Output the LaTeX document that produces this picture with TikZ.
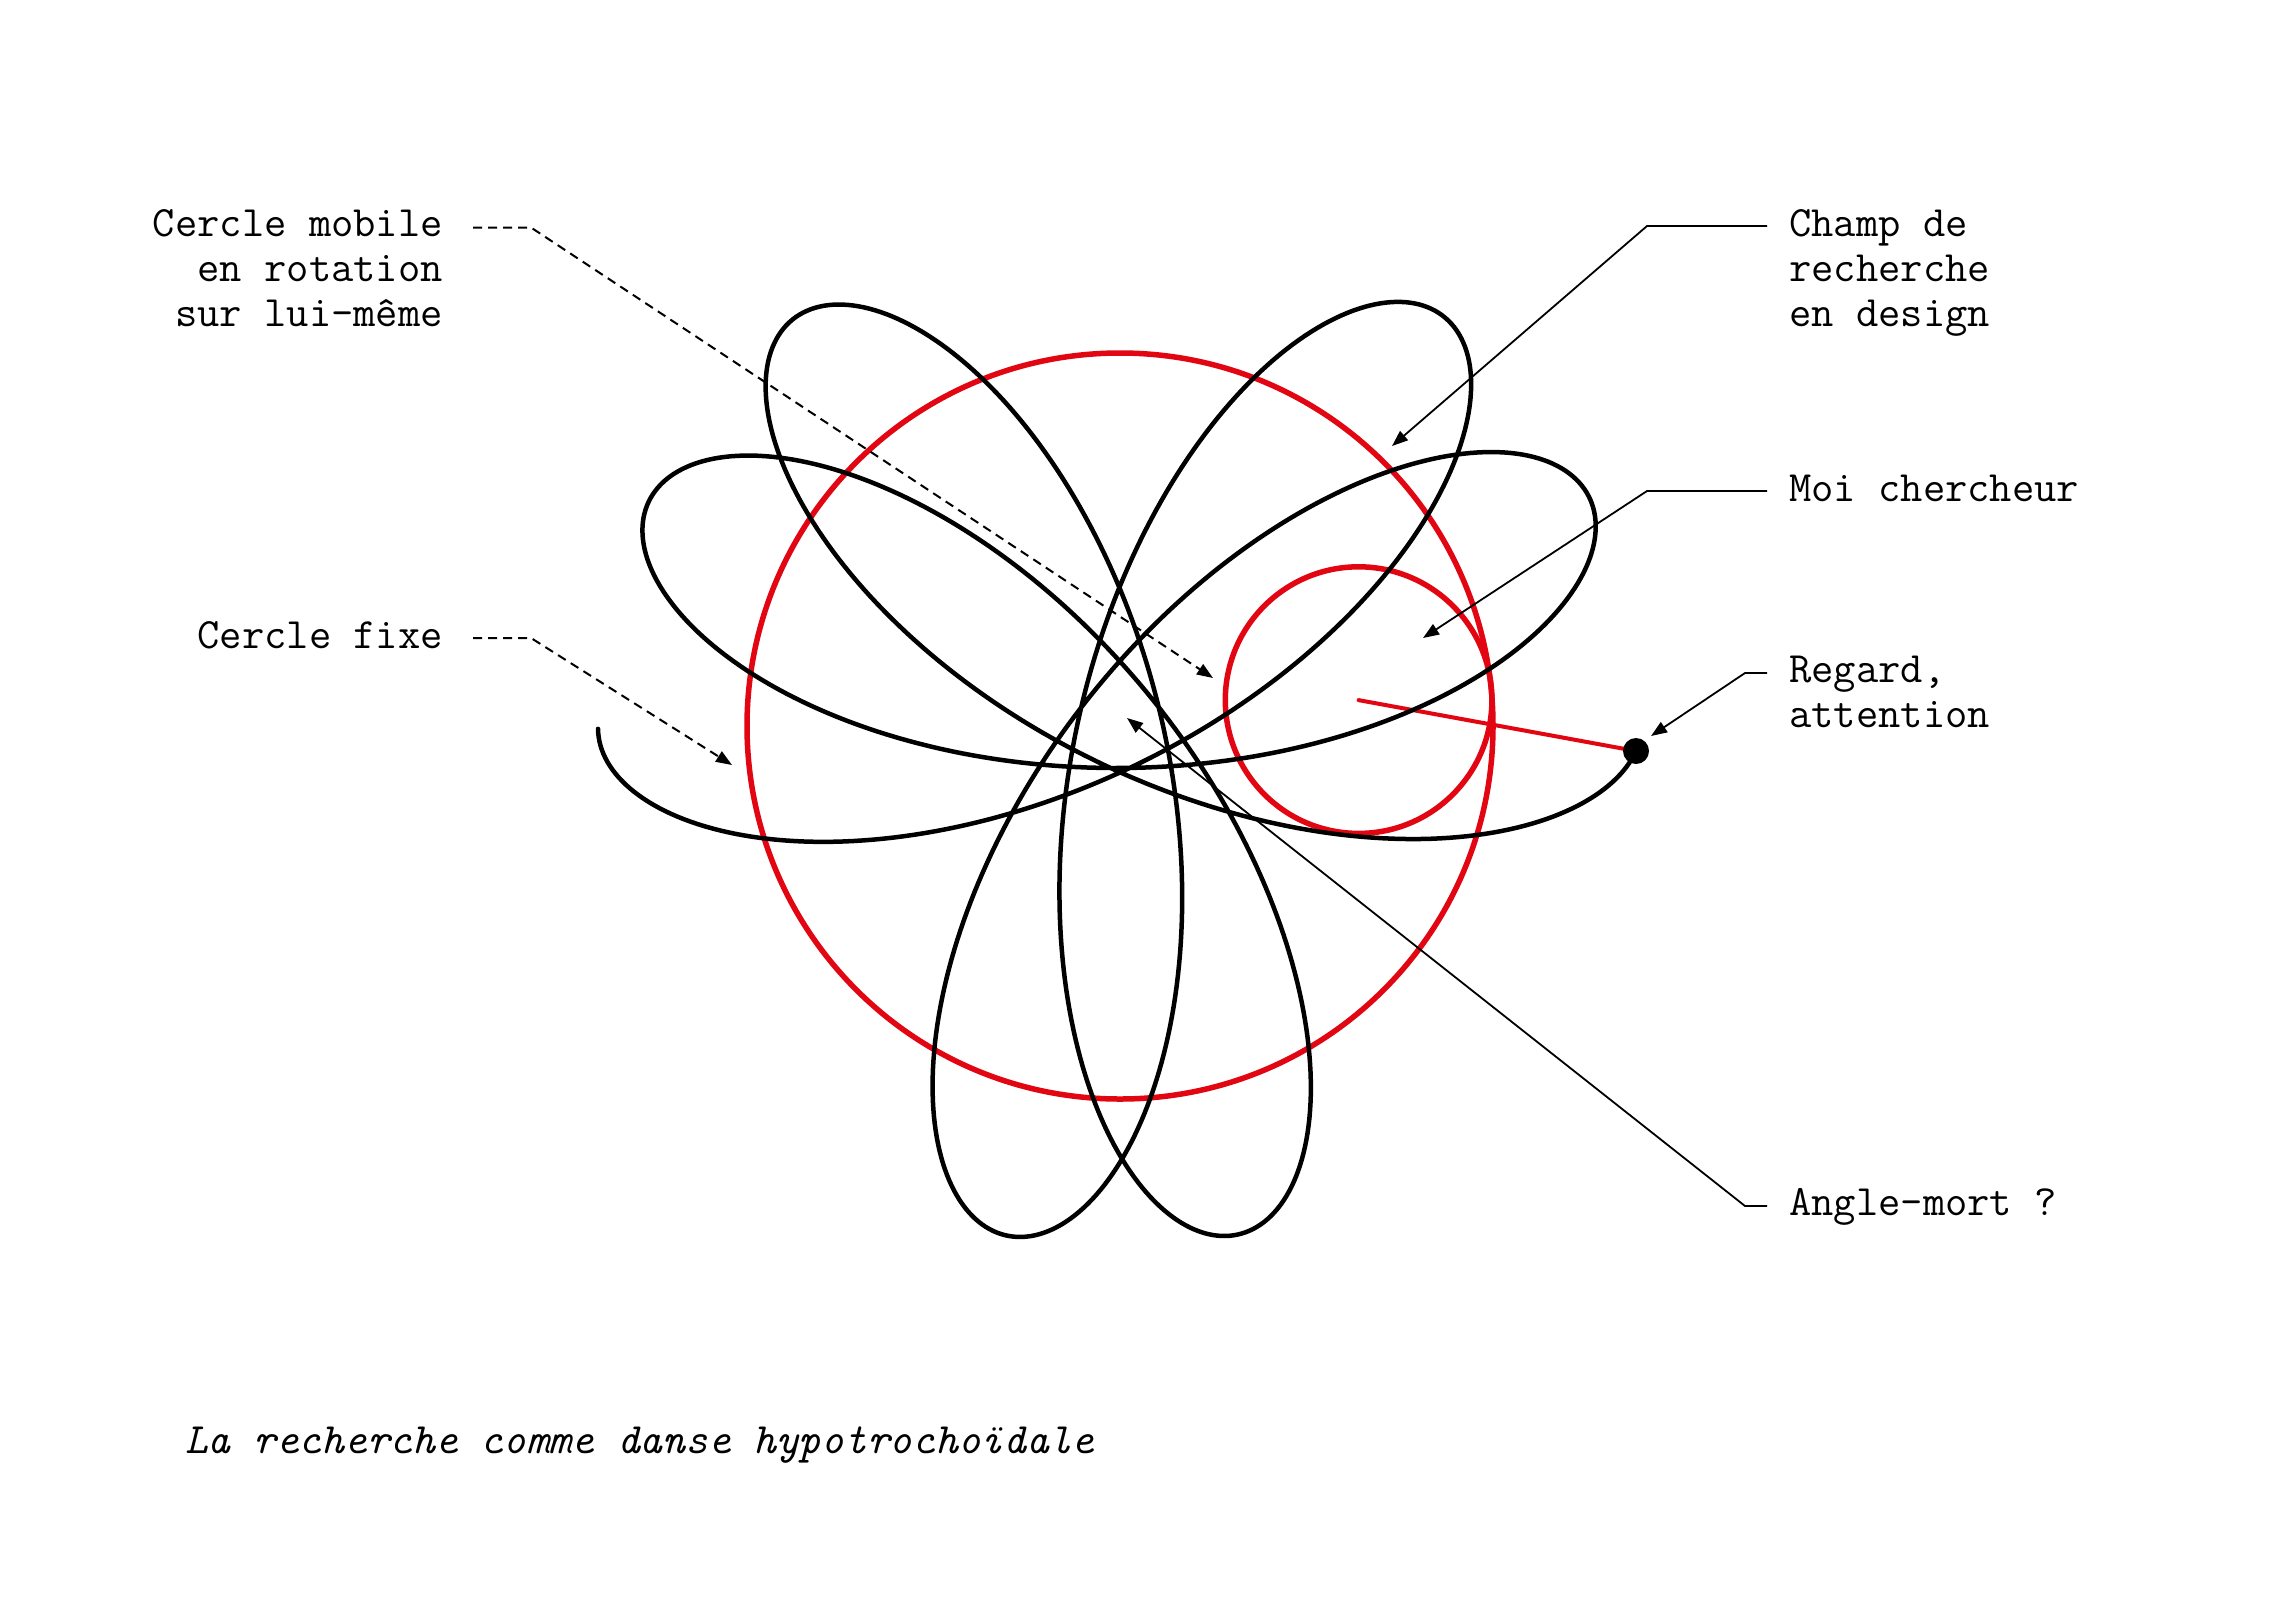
\documentclass[tikz,border=0pt]{standalone}
\usetikzlibrary{arrows.meta}
\definecolor{penred}{RGB}{226,6,19}
\begin{document}
\begin{tikzpicture}[x=1pt,y=-1pt,
  lbl/.style={font=\fontsize{43.3}{45}\selectfont\ttfamily, inner sep=0pt},
  leaderdash/.style={line width=2pt, dash pattern=on 9pt off 6pt, -{Triangle[length=16pt,width=12pt]}},
  leader/.style={line width=1.8pt, -{Triangle[length=16pt,width=12pt]}},
  curve/.style={line width=4.5pt, line join=round, line cap=round},
  redline/.style={penred, line width=5.5pt}]
\fill[white] (0,0) rectangle (2280,1618);
\useasboundingbox (0,0) rectangle (2280,1618);

% geometry
\coordinate (O) at (1120,726);
\coordinate (M) at (1358.6,700.1);
\coordinate (P) at (1636,751);

% red circles and arm
\draw[redline] (O) circle[radius=373];
\draw[redline] (M) circle[radius=133.3];
\draw[penred, line width=4pt, line cap=round] (M) -- (P);

% hypotrochoid
\draw[curve] plot[domain=-894:0, samples=1000, variable=\t]
  ({1120+240*cos(6.2-\t)+282*cos(-10.4+1.8*\t)},
   {726-240*sin(6.2-\t)-282*sin(-10.4+1.8*\t)});
\node[circle, fill=black, inner sep=0pt, minimum size=26pt] (dot) at (P) {};

% labels (base anchor of multi-line nodes = last line)
\node[lbl, anchor=base east, align=right] (mobile) at (443,326.7)
  {Cercle mobile\\en rotation\\sur lui-même};
\node[lbl, anchor=base east] (fixe) at (443,648) {Cercle fixe};
\node[lbl, anchor=base west, align=left] (champ) at (1789,326.7)
  {Champ de\\recherche\\en design};
\node[lbl, anchor=base west] (moi) at (1789,501.7) {Moi chercheur};
\node[lbl, anchor=base west, align=left] (regard) at (1789,727.7)
  {Regard,\\attention};
\node[lbl, anchor=base west] (angle) at (1789,1215.7) {Angle-mort ?};
\node[lbl, font=\fontsize{43.3}{45}\selectfont\ttfamily\itshape, anchor=base west] (caption) at (185,1453)
  {La recherche comme danse hypotrochoïdale};

% leader coordinates
\coordinate (m0) at (473,227.5);  \coordinate (m1) at (531,227.5);  \coordinate (mT) at (1213,678);
\coordinate (f0) at (473,638);    \coordinate (f1) at (531,638);    \coordinate (fT) at (732,765);
\coordinate (c0) at (1767,226);   \coordinate (c1) at (1647,226);   \coordinate (cT) at (1392,446);
\coordinate (o0) at (1767,491);   \coordinate (o1) at (1647,491);   \coordinate (oT) at (1423,638);
\coordinate (r0) at (1767,673);   \coordinate (r1) at (1745,673);   \coordinate (rT) at (1651,736);
\coordinate (a0) at (1767,1206);  \coordinate (a1) at (1745,1206);  \coordinate (aT) at (1127,718);

\draw[leaderdash] (m0) -- (m1) -- (mT);
\draw[leaderdash] (f0) -- (f1) -- (fT);
\draw[leader] (c0) -- (c1) -- (cT);
\draw[leader] (o0) -- (o1) -- (oT);
\draw[leader] (r0) -- (r1) -- (rT);
\draw[leader] (a0) -- (a1) -- (aT);
\end{tikzpicture}
\end{document}
